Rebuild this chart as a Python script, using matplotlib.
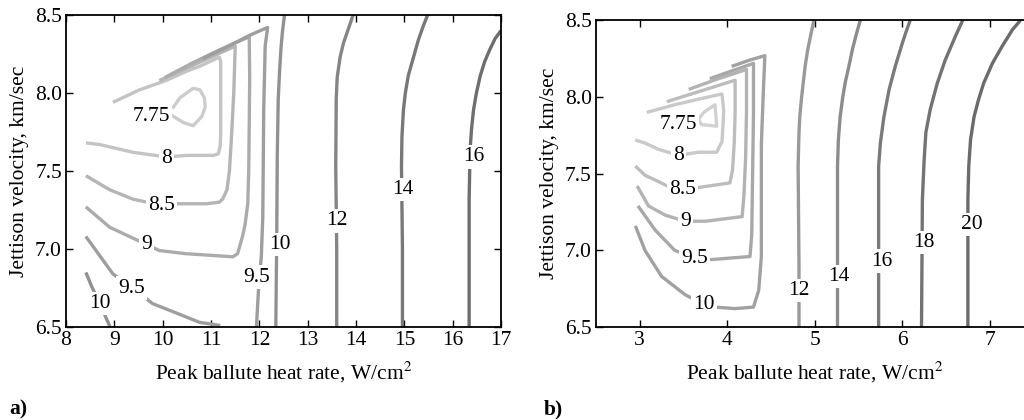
import matplotlib
matplotlib.use("Agg")
import matplotlib.pyplot as plt
from matplotlib.ticker import FormatStrFormatter

plt.rcParams['font.family'] = ['Liberation Serif', 'DejaVu Serif']
plt.rcParams['mathtext.fontset'] = 'stix'

# contour lines of panel a: (level, x points, y points)
lines_a = [
    (7.75, [10.20, 10.36, 10.63, 10.77, 10.86, 10.88, 10.81, 10.63, 10.43, 10.22, 10.17],
           [7.90, 7.97, 8.03, 8.02, 7.97, 7.91, 7.85, 7.79, 7.81, 7.85, 7.86]),
    (8, [8.97, 9.52, 10.07, 10.50, 10.76, 11.17, 11.20, 11.20, 11.20, 11.19, 11.15, 11.05, 10.50, 10.07, 9.38, 8.69, 8.41],
        [7.94, 8.02, 8.08, 8.14, 8.17, 8.23, 8.20, 7.96, 7.74, 7.66, 7.61, 7.60, 7.60, 7.59, 7.62, 7.67, 7.68]),
    (8.5, [9.93, 10.50, 11.00, 11.50, 11.47, 11.42, 11.38, 11.33, 11.24, 11.17, 10.90, 10.28, 9.97, 9.38, 8.90, 8.41],
          [8.08, 8.16, 8.23, 8.30, 8.00, 7.70, 7.50, 7.38, 7.32, 7.30, 7.29, 7.29, 7.28, 7.32, 7.38, 7.47]),
    (9, [10.05, 10.60, 11.20, 11.79, 11.80, 11.79, 11.78, 11.76, 11.70, 11.65, 11.55, 11.45, 10.48, 9.93, 9.66, 9.38, 8.90, 8.41],
        [8.10, 8.19, 8.28, 8.36, 8.10, 7.80, 7.51, 7.29, 7.15, 7.08, 6.97, 6.95, 6.97, 6.99, 7.03, 7.07, 7.14, 7.27]),
    (9.5, [10.83, 11.30, 11.80, 12.17, 12.12, 12.09, 12.08, 12.07, 12.04, 11.99, 11.96, 11.94],
          [8.22, 8.29, 8.37, 8.42, 8.30, 7.90, 7.53, 7.20, 6.95, 6.78, 6.62, 6.50]),
    (9.5, [8.41, 8.69, 8.97, 9.38, 9.79, 10.28, 10.76, 11.19],
          [7.08, 6.96, 6.84, 6.75, 6.65, 6.59, 6.53, 6.51]),
    (10, [8.41, 8.53, 8.70, 8.84, 8.91],
         [6.85, 6.76, 6.65, 6.55, 6.50]),
    (10, [12.52, 12.48, 12.45, 12.42, 12.39, 12.37, 12.36, 12.35, 12.34],
         [8.50, 8.40, 8.30, 8.15, 7.96, 7.60, 7.10, 6.80, 6.50]),
    (12, [13.94, 13.84, 13.74, 13.67, 13.61, 13.59, 13.58, 13.60, 13.60],
         [8.50, 8.41, 8.32, 8.23, 8.10, 7.96, 7.53, 7.00, 6.50]),
    (14, [15.48, 15.38, 15.29, 15.18, 15.08, 15.02, 14.98, 14.95, 14.94, 14.96, 14.96],
         [8.50, 8.42, 8.34, 8.22, 8.11, 8.00, 7.89, 7.72, 7.53, 7.00, 6.50]),
    (16, [17.00, 16.88, 16.77, 16.66, 16.57, 16.49, 16.43, 16.39, 16.36, 16.34, 16.34],
         [8.40, 8.35, 8.28, 8.20, 8.11, 8.00, 7.89, 7.77, 7.64, 7.32, 6.50]),
]
labels_a = [(7.75, 9.77, 7.85), (8, 10.07, 7.58), (8.5, 9.97, 7.28), (9, 9.66, 7.03),
            (9.5, 9.36, 6.75), (9.5, 11.95, 6.82), (10, 8.70, 6.65), (10, 12.43, 7.03),
            (12, 13.61, 7.18), (14, 14.96, 7.38), (16, 16.43, 7.59)]

# contour lines of panel b
lines_b = [
    (7.75, [3.73, 3.86, 3.88, 3.71, 3.67, 3.73],
           [7.90, 7.95, 7.81, 7.82, 7.85, 7.90]),
    (8, [3.08, 3.40, 3.70, 3.94, 3.96, 3.95, 3.94, 3.88, 3.67, 3.44, 3.21, 3.06, 2.95],
        [7.90, 7.95, 7.99, 8.02, 7.91, 7.80, 7.71, 7.64, 7.64, 7.62, 7.66, 7.70, 7.72]),
    (8.5, [3.31, 3.70, 4.09, 4.09, 4.08, 4.06, 4.03, 3.67, 3.49, 3.35, 3.21, 3.06, 2.95],
          [7.97, 8.04, 8.11, 7.90, 7.70, 7.52, 7.44, 7.41, 7.40, 7.41, 7.45, 7.49, 7.55]),
    (9, [3.56, 3.90, 4.22, 4.22, 4.21, 4.19, 4.17, 3.75, 3.52, 3.29, 3.10, 2.97],
        [8.05, 8.12, 8.18, 7.90, 7.60, 7.35, 7.22, 7.19, 7.19, 7.23, 7.29, 7.42]),
    (9.5, [3.80, 4.05, 4.30, 4.30, 4.29, 4.28, 4.26, 3.82, 3.63, 3.40, 3.18, 2.98],
          [8.12, 8.17, 8.22, 7.90, 7.50, 7.10, 6.96, 6.94, 6.95, 7.00, 7.13, 7.29]),
    (10, [4.05, 4.25, 4.43, 4.41, 4.39, 4.39, 4.36, 4.30, 4.09, 3.86, 3.73, 3.52, 3.25, 3.06, 2.95],
         [8.20, 8.24, 8.27, 8.00, 7.69, 6.96, 6.74, 6.63, 6.62, 6.63, 6.65, 6.71, 6.83, 7.00, 7.16]),
    (12, [4.99, 4.96, 4.92, 4.89, 4.87, 4.85, 4.83, 4.82, 4.81, 4.82, 4.82],
         [8.50, 8.42, 8.31, 8.20, 8.10, 8.00, 7.88, 7.77, 7.55, 6.90, 6.50]),
    (14, [5.52, 5.48, 5.43, 5.39, 5.35, 5.32, 5.29, 5.27, 5.26, 5.26, 5.26],
         [8.50, 8.42, 8.31, 8.20, 8.10, 8.00, 7.87, 7.72, 7.55, 7.00, 6.50]),
    (16, [6.09, 6.04, 6.00, 5.92, 5.85, 5.79, 5.75, 5.73, 5.73, 5.73],
         [8.50, 8.42, 8.35, 8.20, 8.05, 7.87, 7.70, 7.55, 7.00, 6.50]),
    (18, [6.69, 6.61, 6.49, 6.40, 6.32, 6.27, 6.25, 6.23, 6.22],
         [8.50, 8.40, 8.24, 8.09, 7.92, 7.77, 7.59, 7.33, 6.50]),
    (20, [7.35, 7.26, 7.14, 7.03, 6.93, 6.87, 6.82, 6.78, 6.76, 6.75, 6.75],
         [8.50, 8.44, 8.33, 8.22, 8.09, 7.98, 7.87, 7.72, 7.55, 7.33, 6.50]),
]
labels_b = [(7.75, 3.44, 7.82), (8, 3.44, 7.62), (8.5, 3.49, 7.40), (9, 3.52, 7.19),
            (9.5, 3.63, 6.95), (10, 3.73, 6.65), (12, 4.82, 6.74), (14, 5.27, 6.83),
            (16, 5.77, 6.93), (18, 6.25, 7.05), (20, 6.80, 7.17)]

xticks_a = [8, 9, 10, 11, 12, 13, 14, 15, 16, 17]
xticks_b = [3, 4, 5, 6, 7]
yticks = [6.5, 7.0, 7.5, 8.0, 8.5]

# gray shade per contour level
shade_a = {7.75: 0.80, 8: 0.77, 8.5: 0.71, 9: 0.67, 9.5: 0.62, 10: 0.57,
           12: 0.52, 14: 0.47, 16: 0.43}
shade_b = {7.75: 0.82, 8: 0.79, 8.5: 0.74, 9: 0.70, 9.5: 0.66, 10: 0.63,
           12: 0.60, 14: 0.55, 16: 0.48, 18: 0.45, 20: 0.42}

FS = 15.5


def draw_panel(ax, lines, labels, shade, xlim, xticks):
    for level, xs, ys in lines:
        g = shade[level]
        ax.plot(xs, ys, color=(g, g, g), lw=2.4, solid_joinstyle='round',
                solid_capstyle='butt')
    for level, x, y in labels:
        ax.text(x, y, '%g' % level, ha='center', va='center', fontsize=FS,
                bbox=dict(fc='white', ec='none', pad=1.5))
    ax.set_xlim(*xlim)
    ax.set_ylim(6.5, 8.5)
    ax.set_xticks(xticks)
    ax.set_yticks(yticks)
    ax.yaxis.set_major_formatter(FormatStrFormatter('%.1f'))
    ax.tick_params(direction='in', top=True, right=True, length=5, width=1,
                   labelsize=FS, pad=3)
    for s in ax.spines.values():
        s.set_linewidth(1.3)
    ax.set_xlabel('Peak ballute heat rate, W/cm$^2$', fontsize=FS, labelpad=7)
    ax.set_ylabel('Jettison velocity, km/sec', fontsize=FS, labelpad=4)


fig = plt.figure(figsize=(10.24, 4.2), dpi=100)
ax_a = fig.add_axes([0.0645, 0.2214, 0.4248, 0.743])
ax_b = fig.add_axes([0.582, 0.2214, 0.4273, 0.730])

draw_panel(ax_a, lines_a, labels_a, shade_a, (8, 17), xticks_a)
draw_panel(ax_b, lines_b, labels_b, shade_b, (2.5, 7.5), xticks_b)

fig.text(0.0176, 0.024, 'a)', fontsize=FS, fontweight='bold', va='center', ha='center')
fig.text(0.540, 0.024, 'b)', fontsize=FS, fontweight='bold', va='center', ha='center')

fig.savefig('out.png', dpi=100)
